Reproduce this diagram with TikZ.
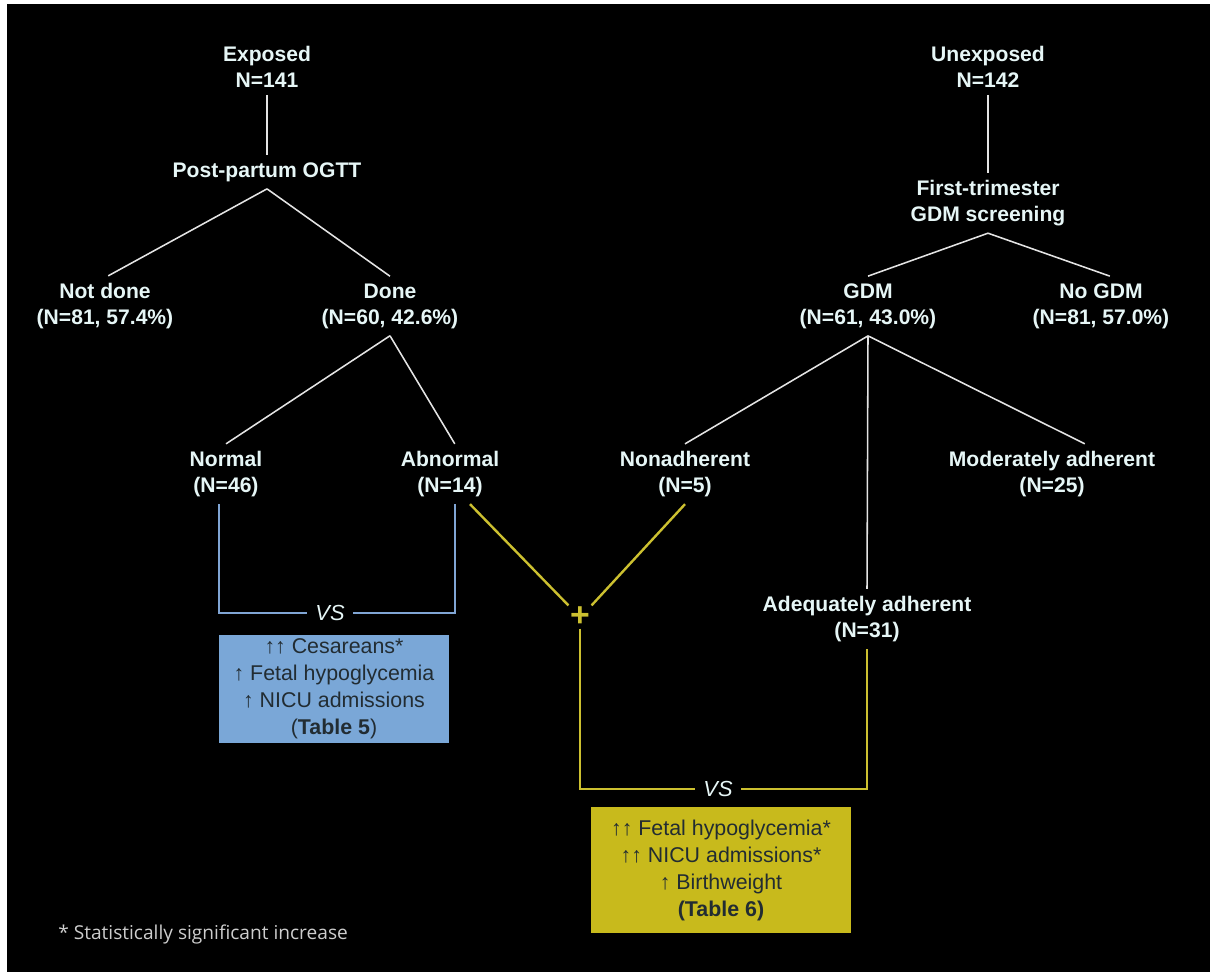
\documentclass[tikz,border=0pt]{standalone}
\usepackage{fontspec}
\setmainfont{Liberation Sans}
\newfontfamily\notefont{Open Sans}
\usepackage{xcolor}
\usepackage{tikz}
\usetikzlibrary{positioning,calc}

\definecolor{lbltxt}{RGB}{230,246,246}
\definecolor{branchcol}{RGB}{228,228,228}
\definecolor{bluecol}{RGB}{128,165,212}
\definecolor{yelcol}{RGB}{204,192,48}
\definecolor{bluefill}{RGB}{122,167,215}
\definecolor{yelfill}{RGB}{200,186,28}
\definecolor{boxtxt}{RGB}{34,44,50}
\definecolor{notetxt}{RGB}{205,205,205}

\begin{document}
\begin{tikzpicture}[x=0.025cm,y=-0.025cm,
    lbl/.style={align=center,text=lbltxt,font=\fontsize{15}{18.5}\selectfont\bfseries,inner xsep=2pt,inner ysep=5pt},
    branch/.style={draw=branchcol,line width=1.1pt},
    bluepath/.style={draw=bluecol,line width=1.7pt},
    yelpath/.style={draw=yelcol,line width=1.7pt},
    vslbl/.style={text=lbltxt,font=\fontsize{15.5}{18}\selectfont\itshape,inner xsep=0.2cm,inner ysep=0pt},
    outcome/.style={align=center,text=boxtxt,font=\fontsize{15.2}{19.2}\selectfont,inner sep=0pt}]
    % background
    \fill[white] (0,0) rectangle (1210,972);
    \fill[black] (7,4) rectangle (1210,972);

    % Exposed arm
    \node[lbl] (exposed) at (267,67) {Exposed\\N=141};
    \node[lbl] (ogtt) at (267,172) {Post-partum OGTT};
    \node[lbl] (notdone) at (105,306) {Not done\\(N=81, 57.4\%)};
    \node[lbl] (done) at (390,306) {Done\\(N=60, 42.6\%)};
    \node[lbl] (normal) at (226,474) {Normal\\(N=46)};
    \node[lbl] (abnormal) at (450,474) {Abnormal\\(N=14)};

    \draw[branch] (exposed) -- (ogtt);
    \draw[branch] (ogtt.south) -- ([xshift=0.08cm]notdone.north);
    \draw[branch] (ogtt.south) -- (done.north);
    \draw[branch] (done.south) -- (normal.north);
    \draw[branch] (done.south) -- ([xshift=0.12cm]abnormal.north);

    % Unexposed arm
    \node[lbl] (unexposed) at (988,67) {Unexposed\\N=142};
    \node[lbl] (screen) at (988,203) {First-trimester\\GDM screening};
    \node[lbl] (gdm) at (868,306) {GDM\\(N=61, 43.0\%)};
    \node[lbl] (nogdm) at (1101,306) {No GDM\\(N=81, 57.0\%)};
    \node[lbl] (nonadh) at (685,474) {Nonadherent\\(N=5)};
    \node[lbl] (modadh) at (1052,474) {Moderately adherent\\(N=25)};
    \node[lbl] (adeqadh) at (867,619) {Adequately adherent\\(N=31)};

    \draw[branch] (unexposed) -- (screen);
    \draw[branch] (screen.south) -- (gdm.north);
    \draw[branch] (screen.south) -- ([xshift=0.22cm]nogdm.north);
    \draw[branch] (gdm.south) -- (nonadh.north);
    \draw[branch] (gdm.south) -- (adeqadh.north);
    \draw[branch] (gdm.south) -- ([xshift=0.82cm]modadh.north);

    % Normal vs abnormal OGTT
    \node[vslbl] (vsA) at (330,613) {VS};
    \draw[bluepath] ([xshift=-0.18cm]normal.south) |- (vsA.west);
    \draw[bluepath] ([xshift=0.12cm]abnormal.south) |- (vsA.east);
    \node[outcome,fill=bluefill,minimum width=5.75cm,minimum height=2.7cm] (tab5) at (334,689)
        {↑↑ Cesareans*\\↑ Fetal hypoglycemia\\↑ NICU admissions\\(\textbf{Table 5})};

    % Abnormal + nonadherent vs adequately adherent
    \node[text=yelcol,font=\fontsize{24}{24}\selectfont\bfseries,inner sep=1pt] (plus) at (580,617) {+};
    \draw[yelpath] ([xshift=0.5cm]abnormal.south) -- (plus.north west);
    \draw[yelpath] (nonadh.south) -- (plus.north east);
    \node[vslbl] (vsB) at (718,789) {VS};
    \draw[yelpath] (plus.south) |- (vsB.west);
    \draw[yelpath] (adeqadh.south) |- (vsB.east);
    \node[outcome,fill=yelfill,minimum width=6.475cm,minimum height=3.125cm] (tab6) at (721,870)
        {↑↑ Fetal hypoglycemia*\\↑↑ NICU admissions*\\↑ Birthweight\\\textbf{(Table 6)}};

    % footnote
    \node[anchor=west,text=notetxt,font=\notefont\fontsize{13.6}{16}\selectfont,inner sep=0pt] (note) at (58,934)
        {* Statistically significant increase};
\end{tikzpicture}
\end{document}
